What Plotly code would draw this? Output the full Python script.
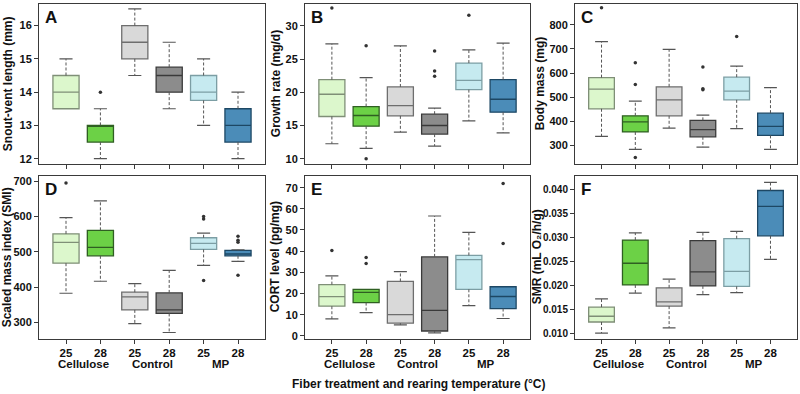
import plotly.graph_objects as go

# ---------------- data ----------------
temps = ["25", "28", "25", "28", "25", "28"]
groups = ["Cellulose", "Control", "MP"]
x_title = "Fiber treatment and rearing temperature (°C)"

fill_colors = ["#dcf7cc", "#6cd146", "#d9d9d9", "#8c8c8c", "#c6eaf0", "#4b8cb8"]
line_colors = ["#7f8f77", "#2f5f22", "#6e6e6e", "#3a3a3a", "#7c9ea4", "#1d4764"]

# A: snout-vent length (mm)
svl_lo  = [13.5, 12.0, 14.5, 13.5, 13.0, 12.0]
svl_q1  = [13.5, 12.5, 15.0, 14.0, 13.75, 12.5]
svl_med = [14.0, 13.0, 15.5, 14.5, 14.0, 13.0]
svl_q3  = [14.5, 13.0, 16.0, 14.75, 14.5, 13.5]
svl_hi  = [15.0, 13.5, 16.5, 15.5, 15.0, 14.0]
svl_out = [[], [14.0], [], [], [], []]

# B: growth rate (mg/d)
gr_lo  = [12.25, 11.55, 14.0, 11.9, 15.7, 13.9]
gr_q1  = [16.35, 14.9, 16.45, 13.7, 20.4, 17.0]
gr_med = [19.7, 16.5, 18.0, 15.0, 21.8, 18.95]
gr_q3  = [21.9, 17.85, 20.8, 16.7, 24.4, 21.9]
gr_hi  = [27.3, 22.2, 27.0, 17.6, 26.4, 27.4]
gr_out = [[32.7], [27.0, 10.0], [], [26.2, 23.2, 22.4], [31.6], []]

# C: body mass (mg)
bm_lo  = [338, 284, 372, 293, 370, 284]
bm_q1  = [452, 356, 423, 336, 489, 342]
bm_med = [533, 398, 489, 366, 525, 379]
bm_q3  = [581, 423, 543, 404, 583, 434]
bm_hi  = [730, 484, 698, 426, 629, 540]
bm_out = [[870], [643, 553, 250], [], [625, 535, 531], [751], []]

# D: scaled mass index (SMI)
smi_lo  = [383, 417, 297, 272, 462, 473]
smi_q1  = [468, 489, 336, 326, 507, 489]
smi_med = [527, 513, 373, 336, 524, 494]
smi_q3  = [551, 561, 386, 384, 540, 504]
smi_hi  = [597, 644, 410, 448, 553, 506]
smi_out = [[695], [], [], [], [600, 593, 419], [544, 533, 527, 434]]

# E: CORT level (pg/mg)
cort_lo  = [8.0, 11.0, 5.2, 1.4, 14.3, 8.2]
cort_q1  = [14.0, 15.7, 6.0, 2.3, 22.0, 12.9]
cort_med = [18.5, 20.5, 10.0, 12.0, 36.0, 18.6]
cort_q3  = [24.2, 22.0, 25.7, 37.3, 38.0, 23.2]
cort_hi  = [28.3, 22.0, 30.3, 56.6, 48.9, 23.2]
cort_out = [[40.3], [34.2, 37.0], [], [], [], [43.6, 72.0]]

# F: SMR (mL O2/h/g)
smr_lo  = [0.0101, 0.0184, 0.0112, 0.0181, 0.0185, 0.0254]
smr_q1  = [0.0124, 0.0201, 0.0157, 0.0199, 0.0198, 0.0303]
smr_med = [0.0136, 0.0246, 0.0166, 0.0228, 0.0229, 0.0364]
smr_q3  = [0.0155, 0.0294, 0.0195, 0.0293, 0.0297, 0.0397]
smr_hi  = [0.0172, 0.0309, 0.0213, 0.0310, 0.0312, 0.0414]
smr_out = [[], [], [], [], [], []]

panels = [
    ("A", svl_lo, svl_q1, svl_med, svl_q3, svl_hi, svl_out, "Snout-vent length (mm)",
     [11.83, 16.65], [12, 13, 14, 15, 16], None),
    ("B", gr_lo, gr_q1, gr_med, gr_q3, gr_hi, gr_out, "Growth rate (mg/d)",
     [9.15, 33.3], [10, 15, 20, 25, 30], None),
    ("C", bm_lo, bm_q1, bm_med, bm_q3, bm_hi, bm_out, "Body mass (mg)",
     [222, 886], [300, 400, 500, 600, 700, 800], None),
    ("D", smi_lo, smi_q1, smi_med, smi_q3, smi_hi, smi_out, "Scaled mass index (SMI)",
     [255, 714], [300, 400, 500, 600, 700], None),
    ("E", cort_lo, cort_q1, cort_med, cort_q3, cort_hi, cort_out, "CORT level (pg/mg)",
     [-1.26, 75.4], [0, 10, 20, 30, 40, 50, 60, 70], None),
    ("F", smr_lo, smr_q1, smr_med, smr_q3, smr_hi, smr_out, "SMR (mL O₂/h/g)",
     [0.00897, 0.04267], [0.010, 0.015, 0.020, 0.025, 0.030, 0.035, 0.040], ".3f"),
]

# ---------------- layout geometry (pixels) ----------------
W, H = 800, 394
col_x = [(39, 265), (305, 530), (575, 797)]
row_y = [(3, 165), (177, 341)]
title_x = [[8, 276, 540], [7, 275, 537]]
FONT = "Liberation Sans, Arial, sans-serif"
AX = "#3a3a3a"
BOX_W = 0.76
CAP = 0.19


def px(x):
    return x / W


def py(y):
    return 1 - y / H


fig = go.Figure()
annotations = []
layout = {}
xs = list(range(len(temps)))

for k, (letter, lo, q1, med, q3, hi, out, ytitle, yr, ytv, tfmt) in enumerate(panels):
    r, c = divmod(k, 3)
    n = k + 1
    xa = "x" if n == 1 else f"x{n}"
    ya = "y" if n == 1 else f"y{n}"
    x0, x1 = col_x[c]
    y0, y1 = row_y[r]

    # whiskers (dashed)
    wx, wy, cx, cy = [], [], [], []
    for i in xs:
        wx += [i, i, None, i, i, None]
        wy += [q3[i], hi[i], None, q1[i], lo[i], None]
        if hi[i] > q3[i]:
            cx += [i - CAP, i + CAP, None]
            cy += [hi[i], hi[i], None]
        if lo[i] < q1[i]:
            cx += [i - CAP, i + CAP, None]
            cy += [lo[i], lo[i], None]
    fig.add_trace(go.Scatter(x=wx, y=wy, mode="lines", xaxis=xa, yaxis=ya,
                             line=dict(color="#555555", width=1, dash="3px,2px"),
                             showlegend=False, hoverinfo="skip"))
    fig.add_trace(go.Scatter(x=cx, y=cy, mode="lines", xaxis=xa, yaxis=ya,
                             line=dict(color="#555555", width=1.2),
                             showlegend=False, hoverinfo="skip"))
    # boxes
    for i in xs:
        fig.add_trace(go.Box(x=[i], q1=[q1[i]], median=[med[i]], q3=[q3[i]],
                             lowerfence=[q1[i]], upperfence=[q3[i]],
                             width=BOX_W, whiskerwidth=0, boxpoints=False,
                             fillcolor=fill_colors[i],
                             line=dict(color=line_colors[i], width=1.3),
                             xaxis=xa, yaxis=ya, showlegend=False))
    # outliers
    ox, oy = [], []
    for i in xs:
        for v in out[i]:
            ox.append(i)
            oy.append(v)
    if ox:
        fig.add_trace(go.Scatter(x=ox, y=oy, mode="markers", xaxis=xa, yaxis=ya,
                                 marker=dict(color="#333333", size=3.5),
                                 showlegend=False, hoverinfo="skip"))

    bottom = r == 1
    layout[f"xaxis{'' if n == 1 else n}"] = dict(
        domain=[px(x0), px(x1)], anchor=ya, range=[-0.785, 5.785],
        tickmode="array", tickvals=xs, ticktext=temps,
        showticklabels=bottom, ticks="outside", ticklen=4, tickcolor=AX,
        tickfont=dict(family=FONT, size=11.5, color="#111111", weight="bold"),
        showline=True, linecolor=AX, linewidth=1, mirror=True,
        showgrid=False, zeroline=False, fixedrange=True)
    layout[f"yaxis{'' if n == 1 else n}"] = dict(
        domain=[py(y1), py(y0)], anchor=xa, range=yr,
        tickmode="array", tickvals=ytv, tickformat=tfmt,
        ticks="outside", ticklen=4, tickcolor=AX,
        tickfont=dict(family=FONT, size=10 if letter == "F" else 11,
                      color="#111111", weight="bold"),
        showline=True, linecolor=AX, linewidth=1, mirror=True,
        showgrid=False, zeroline=False, fixedrange=True)

    # panel letter
    annotations.append(dict(text=letter, x=px(x0 + 4), y=py(y0 + 2), xref="paper", yref="paper",
                            xanchor="left", yanchor="top", showarrow=False,
                            font=dict(family=FONT, size=17, color="#111111", weight="bold")))
    # y title
    annotations.append(dict(text=ytitle, x=px(title_x[r][c]), y=py((y0 + y1) / 2),
                            xref="paper", yref="paper", textangle=-90,
                            xanchor="center", yanchor="middle", showarrow=False,
                            font=dict(family=FONT, size=12, color="#111111", weight="bold")))
    # group labels
    if bottom:
        for g, gname in enumerate(groups):
            annotations.append(dict(text=gname, x=2 * g + 0.5, y=py(367), xref=xa, yref="paper",
                                    xanchor="center", yanchor="middle", showarrow=False,
                                    font=dict(family=FONT, size=11.5, color="#111111", weight="bold")))

annotations.append(dict(text=x_title, x=px(419), y=py(387), xref="paper", yref="paper",
                        xanchor="center", yanchor="middle", showarrow=False,
                        font=dict(family=FONT, size=12, color="#111111", weight="bold")))

fig.update_layout(width=W, height=H, margin=dict(l=0, r=0, t=0, b=0),
                  paper_bgcolor="white", plot_bgcolor="white",
                  boxmode="overlay", annotations=annotations, **layout)

fig.write_html("out.html", config={"displayModeBar": False},
               post_script="document.body.style.margin='0';document.body.style.overflow='hidden';")
